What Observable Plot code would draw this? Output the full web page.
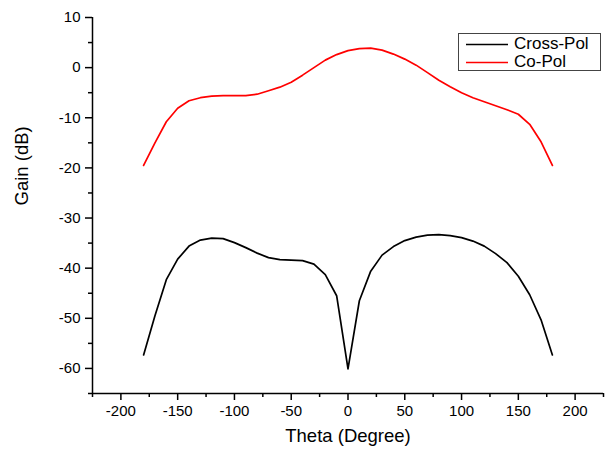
<!DOCTYPE html>
<html>
<head>
<meta charset="utf-8">
<script src="https://cdn.jsdelivr.net/npm/d3@7"></script>
<script src="https://cdn.jsdelivr.net/npm/@observablehq/plot@0.6"></script>
<style>
  html, body { margin: 0; padding: 0; background: #fff; }
  #wrap { position: relative; width: 609px; height: 454px; font-family: "Liberation Sans", Arial, sans-serif; }
  #legend { position: absolute; left: 458px; top: 33px; width: 141px; height: 36px; border: 1px solid #444; background: #fff; font-size: 17px; color: #000; }
  #legend .row { position: absolute; left: 0; width: 141px; height: 18px; line-height: 18px; }
  #legend svg { position: absolute; left: 6px; top: 0; }
  #legend .lab { position: absolute; left: 55px; top: 0; white-space: nowrap; }
</style>
</head>
<body>
<div id="wrap"></div>
<script>
const theta = [-180,-170,-160,-150,-140,-130,-120,-110,-100,-90,-80,-70,-60,-50,-40,-30,-20,-10,0,10,20,30,40,50,60,70,80,90,100,110,120,130,140,150,160,170,180];
const crossPol = [-57.3,-49.5,-42.3,-38.2,-35.6,-34.4,-34.0,-34.1,-34.9,-35.9,-37.0,-37.9,-38.3,-38.4,-38.5,-39.2,-41.3,-45.5,-60.1,-46.5,-40.6,-37.4,-35.7,-34.5,-33.8,-33.4,-33.3,-33.5,-33.9,-34.6,-35.6,-37.1,-38.9,-41.6,-45.3,-50.3,-57.3];
const coPol = [-19.5,-15.0,-10.8,-8.1,-6.6,-6.0,-5.7,-5.6,-5.6,-5.6,-5.3,-4.6,-3.9,-2.9,-1.5,0.0,1.5,2.6,3.4,3.8,3.9,3.5,2.7,1.7,0.5,-1.0,-2.5,-3.8,-5.0,-6.0,-6.8,-7.6,-8.4,-9.3,-11.3,-14.8,-19.5];
const seriesNames = ["Cross-Pol", "Co-Pol"];
const seriesColors = ["#000000", "#ff0000"];
const xMajorTicks = [-200,-150,-100,-50,0,50,100,150,200];
const xMinorTicks = [-225,-175,-125,-75,-25,25,75,125,175,225];
const yMajorTicks = [-60,-50,-40,-30,-20,-10,0,10];
const yMinorTicks = [-65,-55,-45,-35,-25,-15,-5,5];
const xDomain = [-225, 225];
const yDomain = [-65, 10];

const rows = [];
theta.forEach((t, i) => {
  rows.push({theta: t, gain: crossPol[i], series: seriesNames[0]});
  rows.push({theta: t, gain: coPol[i], series: seriesNames[1]});
});

const fmt = d => String(d);
const font = "'Liberation Sans', Arial, sans-serif";
const chart = Plot.plot({
  width: 609,
  height: 454,
  marginLeft: 92,
  marginRight: 6,
  marginTop: 17,
  marginBottom: 61,
  style: {fontFamily: font, fontSize: "15px", color: "#000", background: "#fff"},
  x: {domain: xDomain},
  y: {domain: yDomain},
  color: {domain: seriesNames, range: seriesColors},
  marks: [
    Plot.axisX({ticks: xMinorTicks, tickSize: 4, tickFormat: () => "", label: null, strokeWidth: 1.5}),
    Plot.axisX({ticks: xMajorTicks, tickSize: 7, tickPadding: 5, tickFormat: fmt, label: null, strokeWidth: 1.5, fontSize: 15}),
    Plot.axisY({ticks: yMinorTicks, tickSize: 4, tickFormat: () => "", label: null, strokeWidth: 1.5}),
    Plot.axisY({ticks: yMajorTicks, tickSize: 7, tickPadding: 5, tickFormat: fmt, label: null, strokeWidth: 1.5, fontSize: 15}),
    Plot.ruleY([yDomain[0]], {stroke: "#000", strokeWidth: 1.5}),
    Plot.ruleX([xDomain[0]], {stroke: "#000", strokeWidth: 1.5}),
    Plot.line(rows, {x: "theta", y: "gain", z: "series", stroke: "series", strokeWidth: 1.7, strokeLinejoin: "round"}),
    Plot.text(["Theta (Degree)"], {frameAnchor: "bottom", dy: 48, fontSize: 18.5, fill: "#000"}),
    Plot.text(["Gain (dB)"], {frameAnchor: "left", dx: -70, rotate: -90, fontSize: 18.5, fill: "#000"})
  ]
});

const wrap = document.getElementById("wrap");
wrap.appendChild(chart);
const legend = document.createElement("div");
legend.id = "legend";
seriesNames.forEach((name, i) => {
  const row = document.createElement("div");
  row.className = "row";
  row.style.top = (i * 18 + 1) + "px";
  row.innerHTML = `<svg width="44" height="18"><line x1="1" y1="9.5" x2="43" y2="9.5" stroke="${seriesColors[i]}" stroke-width="1.6"/></svg><span class="lab">${name}</span>`;
  legend.appendChild(row);
});
wrap.appendChild(legend);
</script>
</body>
</html>
